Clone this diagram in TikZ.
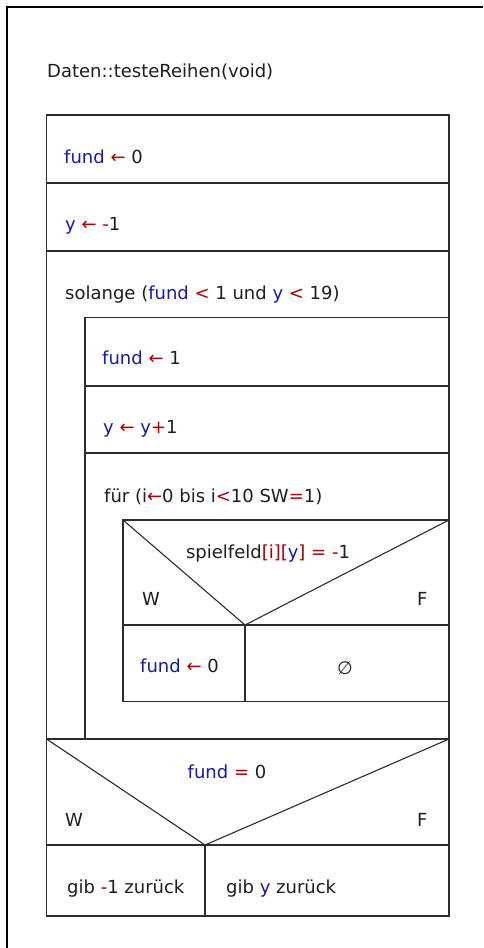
\documentclass[tikz,border=0pt]{standalone}
\usepackage{fontspec}
\setmainfont{DejaVu Sans}
\definecolor{kw}{RGB}{25,25,165}
\definecolor{op}{RGB}{170,0,0}
\definecolor{tx}{RGB}{30,30,30}
\definecolor{ln}{RGB}{45,45,45}
\newcommand{\Bv}[1]{\textcolor{kw}{#1}}
\newcommand{\Rop}[1]{\textcolor{op}{#1}}
\begin{document}
\begin{tikzpicture}[x=1pt,y=-1pt,
  txt/.style={anchor=base west, inner sep=0pt, text=tx, font=\fontsize{18}{21}\selectfont},
  ctxt/.style={txt, anchor=base},
  box/.style={draw=ln, line width=1.6pt},
  diag/.style={draw=ln, line width=1.1pt}]
\useasboundingbox (0,0) rectangle (483,948);
\fill[white] (0,0) rectangle (483,948);
% outer frame
\draw[line width=2pt, black] (7,948) -- (7,7) -- (483,7);
% coordinates
\coordinate (mTL) at (46.5,115);
\coordinate (mBR) at (449,916);
\coordinate (wTL) at (85,317.5);
\coordinate (wBL) at (85,739);
\coordinate (iTL) at (123,520);
\coordinate (iTR) at (449,520);
\coordinate (iBL) at (123,701.5);
\coordinate (iV) at (245,625);
\coordinate (dTL) at (46.5,739);
\coordinate (dTR) at (449,739);
\coordinate (dV) at (205,845);
% main box
\draw[box] (mTL) rectangle (mBR);
\draw[box] (46.5,183) -- (449,183);
\draw[box] (46.5,251) -- (449,251);
% while loop body
\draw[box] (wBL) -- (wTL) -- (449,317.5);
\draw[box] (85,386) -- (449,386);
\draw[box] (85,453) -- (449,453);
% inner if
\draw[box] (iBL) -- (iTL) -- (iTR);
\draw[box] (123,625) -- (449,625);
\draw[box] (iV) -- (245,701.5);
\draw[box] (iBL) -- (449,701.5);
\draw[diag] (iTL) -- (iV) -- (iTR);
% outer if
\draw[box] (dTL) -- (dTR);
\draw[diag] (dTL) -- (dV) -- (dTR);
\draw[box] (46.5,845) -- (449,845);
\draw[box] (dV) -- (205,916);
% texts
\node[txt] (title) at (47,77) {Daten::testeReihen(void)};
\node[txt] (t1) at (64,163) {\Bv{fund} \Rop{←} 0};
\node[txt] (t2) at (65,230) {\Bv{y} \Rop{←} \Rop{-}1};
\node[txt] (t3) at (65,299) {solange (\Bv{fund} \Rop{<} 1 und \Bv{y} \Rop{<} 19)};
\node[txt] (t4) at (102,364) {\Bv{fund} \Rop{←} 1};
\node[txt] (t5) at (103,433) {\Bv{y} \Rop{←} \Bv{y}\Rop{+}1};
\node[txt] (t6) at (104,502) {für (i\Rop{←}0 bis i\Rop{<}10 SW\Rop{=}1)};
\node[ctxt] (t7) at (268,558) {spielfeld\Rop{[i][}\Bv{y}\Rop{]} \Rop{=} \Rop{-}1};
\node[txt] (w1) at (142,605) {W};
\node[txt] (f1) at (417,605) {F};
\node[txt] (t8) at (140,672) {\Bv{fund} \Rop{←} 0};
\node[ctxt] (t9) at (345,674) {∅};
\node[ctxt] (t10) at (227,778) {\Bv{fund} \Rop{=} 0};
\node[txt] (w2) at (65,826) {W};
\node[txt] (f2) at (417,826) {F};
\node[txt] (t11) at (67,893) {gib \Rop{-}1 zurück};
\node[txt] (t12) at (226,893) {gib \Bv{y} zurück};
\end{tikzpicture}
\end{document}
